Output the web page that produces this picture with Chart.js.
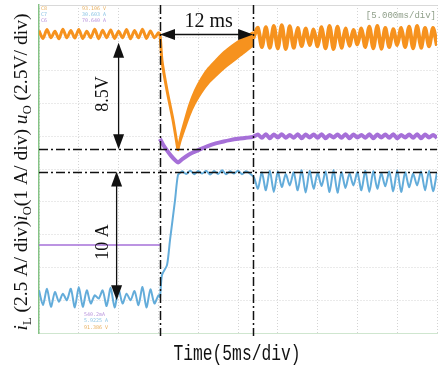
<!DOCTYPE html>
<html>
<head>
<meta charset="utf-8">
<script src="https://cdn.jsdelivr.net/npm/chart.js@4.4.0/dist/chart.umd.min.js"></script>
<style>
html,body{margin:0;padding:0;background:#fff}
canvas{display:block}
</style>
</head>
<body>
<canvas id="canvas" width="439" height="368"></canvas>
<script>
// scope screen: 10 div x 5 ms, 10 vertical div (values in div units)
var stepT = 15.2, settleT = 26.9;
var uoLevel = 9.1, uoArrowTop = 8.85, uoMin = 5.6, ilHigh = 4.92, ilLow = 1.0;

// uO (orange), samples every 0.5 ms from t=0
var uoPre = [9.22,8.98,9.25,9.0,9.2,8.97,9.26,9.0,9.22,8.99,9.25,8.98,9.2,9.0,9.26,8.97,
	9.23,9.0,9.24,8.98,9.2,9.0,9.25,8.97,9.22,9.0,9.26,8.98,9.21,9.0,9.15];
var uoFallT = [15.2,15.45,16.08,16.83,17.46];
var uoFall = [9.1,8.3,7.4,6.5,5.58];
var uoBandT = [17.46,17.8,18.3,18.9,19.6,20.4,21.3,22.3,23.3,24.3,25.3,26.2,26.9];
var uoBandHi = [5.65,6.04,6.48,6.97,7.4,7.77,8.08,8.34,8.58,8.77,8.94,9.07,9.17];
var uoBandLo = [5.55,5.86,6.22,6.63,7.0,7.33,7.62,7.86,8.08,8.27,8.46,8.63,8.77];
// from t=27, every 0.5 ms
var uoPost = [9.05,9.3,8.72,9.32,8.7,9.36,8.68,9.38,8.66,9.35,8.7,9.3,8.75,9.28,8.78,9.25,
	8.74,9.32,8.68,9.36,8.66,9.34,8.7,9.28,8.76,9.24,8.8,9.28,8.72,9.34,8.68,9.36,8.67,9.3,
	8.72,9.26,8.78,9.3,8.72,9.34,8.68,9.36,8.7,9.3,8.74,9.3,8.76];

// iO (purple)
var ioPreT = [0, 15.2];
var ioPre = [2.68, 2.68];
var ioStepT = [15.2,15.6,16.1,16.6,17.1,17.46,18.0,18.7,19.5,20.2,21.2,22.2,23.2,24.0,25.0,26.0,26.9];
var ioStep = [5.92,5.74,5.56,5.4,5.27,5.2,5.3,5.42,5.52,5.6,5.7,5.78,5.84,5.88,5.92,5.95,5.98];
// from t=27.5, every 0.5 ms
var ioPost = [6.05,5.95,6.06,5.94,6.05,5.96,6.06,5.95,6.04,5.95,6.06,5.94,6.05,5.96,6.05,5.95,
	6.06,5.94,6.04,5.96,6.05,5.95,6.06,5.94,6.05,5.96,6.04,5.95,6.06,5.94,6.05,5.96,6.05,5.95,
	6.06,5.94,6.04,5.96,6.05,5.95,6.06,5.94,6.05,5.96,6.04,5.95];

// iL (blue), from t=0 every 0.5 ms
var ilPre = [1.3,0.85,1.35,0.8,1.25,0.95,1.2,1.0,1.35,0.78,1.4,0.8,1.3,0.9,1.15,1.05,1.3,0.82,
	1.38,0.78,1.32,0.9,1.2,1.0,1.28,0.85,1.4,0.78,1.33,0.9,1.15];
var ilRiseT = [15.2,15.45,16.08,16.46,17.09,17.46,17.84];
var ilRise = [1.1,1.77,2.07,2.84,4.05,4.82,4.9];
// from t=18, every 0.5 ms
var ilMid = [4.93,4.85,4.95,4.84,4.94,4.86,4.95,4.83,4.94,4.85,4.96,4.84,4.93,4.86,4.95,4.84,4.93,4.86];
// from t=27, every 0.5 ms
var ilPost = [4.75,4.4,4.9,4.35,4.95,4.3,4.92,4.45,4.85,4.5,4.9,4.35,4.96,4.28,4.94,4.4,4.88,
	4.48,4.92,4.3,4.97,4.28,4.9,4.42,4.86,4.5,4.9,4.35,4.95,4.3,4.93,4.4,4.87,4.47,4.92,4.32,
	4.96,4.3,4.9,4.44,4.86,4.5,4.92,4.35,4.95,4.32,4.9];

function pts(t0, vals) {
	return vals.map(function(v, i){ return {x: t0 + i*0.5, y: v}; });
}
function pairs(ts, vals) {
	return vals.map(function(v, i){ return {x: ts[i], y: v}; });
}

var orange = '#f6921e', purple = '#a670d8', blue = '#63acda';

function arrowHead(ctx, x, y, dx, dy) {
	var len = 15, hw = 5.5;
	var bx = x - dx*len, by = y - dy*len;
	ctx.beginPath();
	ctx.moveTo(x, y);
	ctx.lineTo(bx - dy*hw, by + dx*hw);
	ctx.lineTo(bx + dy*hw, by - dx*hw);
	ctx.closePath();
	ctx.fill();
}
function dblArrow(ctx, x1, y1, x2, y2) {
	var L = Math.hypot(x2-x1, y2-y1), dx = (x2-x1)/L, dy = (y2-y1)/L;
	ctx.beginPath();
	ctx.moveTo(x1 + dx*8, y1 + dy*8);
	ctx.lineTo(x2 - dx*8, y2 - dy*8);
	ctx.stroke();
	arrowHead(ctx, x1, y1, -dx, -dy);
	arrowHead(ctx, x2, y2, dx, dy);
}
function vText(ctx, txt, x, y) {
	ctx.save();
	ctx.translate(x, y);
	ctx.rotate(-Math.PI/2);
	ctx.textAlign = 'center';
	ctx.textBaseline = 'alphabetic';
	ctx.fillText(txt, 0, 0);
	ctx.restore();
}

var annot = {
	id: 'annot',
	beforeDatasetsDraw: function(chart) {
		var ctx = chart.ctx, a = chart.chartArea;
		ctx.save();
		ctx.strokeStyle = '#d9d9d9';
		ctx.lineWidth = 1;
		ctx.beginPath();
		ctx.moveTo(a.left, a.top + 0.5);
		ctx.lineTo(a.right, a.top + 0.5);
		ctx.stroke();
		// scope readouts
		ctx.font = '5px "DejaVu Sans Mono"';
		ctx.textBaseline = 'middle';
		ctx.fillStyle = '#e8b060'; ctx.fillText('C8', 41, 9);  ctx.fillText('93.106 V', 82, 9);
		ctx.fillStyle = '#8cc4e4'; ctx.fillText('C7', 41, 15); ctx.fillText('30.603 A', 82, 15);
		ctx.fillStyle = '#b894dc'; ctx.fillText('C6', 41, 21); ctx.fillText('70.640 A', 82, 21);
		ctx.fillStyle = '#b894dc'; ctx.fillText('540.2mA', 84, 315);
		ctx.fillStyle = '#8cc4e4'; ctx.fillText('5.9225 A', 84, 321);
		ctx.fillStyle = '#e8b060'; ctx.fillText('91.386 V', 84, 328);
		ctx.font = '9px "Liberation Mono"';
		ctx.fillStyle = '#8e9e88';
		ctx.textAlign = 'right';
		ctx.fillText('[5.000ms/div]', 436, 16);
		ctx.restore();
	},
	afterDatasetsDraw: function(chart) {
		var ctx = chart.ctx, a = chart.chartArea;
		var x = chart.scales.x, y = chart.scales.y;
		ctx.save();
		ctx.strokeStyle = '#111';
		ctx.fillStyle = '#111';
		ctx.lineWidth = 1.5;
		ctx.setLineDash([9, 3, 2, 3]);
		[stepT, settleT].forEach(function(t){
			var px = Math.round(x.getPixelForValue(t)) + 0.5;
			ctx.beginPath(); ctx.moveTo(px, a.top); ctx.lineTo(px, a.bottom + 3); ctx.stroke();
		});
		[uoMin, ilHigh].forEach(function(v){
			var py = Math.round(y.getPixelForValue(v)) + 0.5;
			ctx.beginPath(); ctx.moveTo(a.left, py); ctx.lineTo(a.right, py); ctx.stroke();
		});
		ctx.setLineDash([]);
		ctx.lineWidth = 1.3;
		var xs = x.getPixelForValue(stepT), xe = x.getPixelForValue(settleT);
		dblArrow(ctx, xs, y.getPixelForValue(uoLevel), xe, y.getPixelForValue(uoLevel));
		var xv = x.getPixelForValue(10);
		dblArrow(ctx, xv, y.getPixelForValue(uoArrowTop), xv, y.getPixelForValue(uoMin));
		var xa = x.getPixelForValue(9.75);
		dblArrow(ctx, xa, y.getPixelForValue(ilHigh), xa, y.getPixelForValue(ilLow));

		ctx.font = '20px "Liberation Serif"';
		ctx.textAlign = 'center';
		ctx.fillText('12 ms', (xs + xe)/2 + 2, 27);
		ctx.font = '18px "Liberation Serif"';
		vText(ctx, '8.5V', 108, 94);
		vText(ctx, '10 A', 108, 242);
		ctx.restore();
	},
	afterDraw: function(chart) {
		var ctx = chart.ctx;
		ctx.save();
		ctx.fillStyle = '#111';
		// x title
		ctx.translate(237, 360);
		ctx.scale(0.74, 1);
		ctx.font = '22px "Liberation Mono"';
		ctx.textAlign = 'center';
		ctx.fillText('Time(5ms/div)', 0, 0);
		ctx.restore();

		// y title with italic symbols and subscripts
		var parts = [
			['i', 'it'], ['L', 'sub'], [' (2.5 A/ div)', ''],
			['i', 'it'], ['O', 'sub'], ['(1 A/ div) ', ''],
			['u', 'it'], ['O', 'sub'], [' (2.5V/ div)', '']
		];
		var fs = 19;
		function fontFor(k) {
			if (k === 'it') return 'italic ' + fs + 'px "Liberation Serif"';
			if (k === 'sub') return Math.round(fs*0.62) + 'px "Liberation Serif"';
			return fs + 'px "Liberation Serif"';
		}
		ctx.save();
		var total = 0;
		parts.forEach(function(p){ ctx.font = fontFor(p[1]); total += ctx.measureText(p[0]).width; });
		ctx.translate(27, 172);
		ctx.rotate(-Math.PI/2);
		ctx.scale(317/total, 1);
		ctx.fillStyle = '#111';
		ctx.textBaseline = 'alphabetic';
		var cx = -total/2;
		parts.forEach(function(p){
			ctx.font = fontFor(p[1]);
			ctx.fillText(p[0], cx, p[1] === 'sub' ? 4 : 0);
			cx += ctx.measureText(p[0]).width;
		});
		ctx.restore();
	}
};

var ctx = document.getElementById('canvas').getContext('2d');
var chart = new Chart(ctx, {
	type: 'line',
	data: {
		datasets: [
			{ data: pts(0, uoPre).concat(pairs(uoFallT, uoFall)), borderColor: orange, borderWidth: 3, order: 0 },
			{ data: pairs(uoBandT, uoBandHi), borderColor: orange, backgroundColor: orange, borderWidth: 2, fill: '+1', order: 0 },
			{ data: pairs(uoBandT, uoBandLo), borderColor: orange, borderWidth: 2, order: 0 },
			{ data: [{x: settleT, y: 8.97}].concat(pts(27, uoPost)), borderColor: orange, borderWidth: 4, order: 0 },
			{ data: pairs(ioPreT, ioPre), borderColor: purple, borderWidth: 1.5, order: 1 },
			{ data: pairs(ioStepT, ioStep).concat(pts(27.5, ioPost)), borderColor: purple, borderWidth: 4, order: 1 },
			{ data: pts(0, ilPre).concat(pairs(ilRiseT, ilRise), pts(18, ilMid), pts(27, ilPost)),
				borderColor: blue, borderWidth: 2, order: 2 }
		]
	},
	options: {
		responsive: false,
		animation: false,
		parsing: true,
		elements: {
			point: { radius: 0 },
			line: { tension: 0.25, borderJoinStyle: 'round', fill: false }
		},
		layout: { padding: { left: 39, right: 2, top: 5, bottom: 35 } },
		plugins: {
			legend: { display: false },
			tooltip: { enabled: false }
		},
		scales: {
			x: {
				type: 'linear', min: 0, max: 50,
				ticks: { display: false, stepSize: 5 },
				grid: { color: '#d4d4d4', drawTicks: false },
				border: { display: true, color: '#cfe6cf', width: 1, dash: [1, 2] }
			},
			y: {
				type: 'linear', min: 0, max: 10,
				ticks: { display: false, stepSize: 1 },
				grid: { color: '#d4d4d4', drawTicks: false },
				border: { display: true, color: '#86c486', width: 1.5, dash: [1, 2] }
			}
		}
	},
	plugins: [annot]
});
</script>
</body>
</html>
